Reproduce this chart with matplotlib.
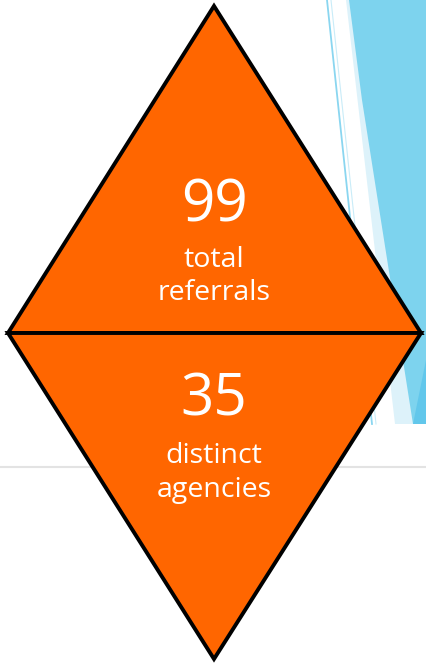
import matplotlib
matplotlib.use("Agg")
import matplotlib.pyplot as plt
from matplotlib.patches import Polygon

# Data
values = [99, 35]
labels = [["total", "referrals"], ["distinct", "agencies"]]

W, H = 426, 664
fig = plt.figure(figsize=(W / 100, H / 100), dpi=100)
ax = fig.add_axes([0, 0, 1, 1])
ax.set_xlim(0, W)
ax.set_ylim(H, 0)
ax.axis("off")

# Decorative background (slide design)
ax.add_patch(Polygon([(346, 0), (426, 0), (426, 424), (395, 424)], closed=True,
                     facecolor="#DDF2FA", edgecolor="none", zorder=1))
ax.add_patch(Polygon([(349, 0), (426, 0), (426, 424), (413, 424), (362, 100)], closed=True,
                     facecolor="#7DD3EE", edgecolor="none", zorder=1))
ax.add_patch(Polygon([(426, 360), (426, 424), (413, 424)], closed=True,
                     facecolor="#62C7EB", edgecolor="none", zorder=1))
ax.plot([327, 372], [0, 424], color="#8AD6F0", lw=1.3, zorder=1)
ax.plot([331, 376], [0, 424], color="#C9ECF8", lw=0.8, zorder=1)
ax.plot([0, W], [467, 467], color="#E3E3E3", lw=1.5, zorder=1)

# Diamond made of two triangles
cx, top, mid, bot, left, right = 214, 6, 333, 659, 8, 421
orange = "#FF6600"
ax.add_patch(Polygon([(cx, top), (right, mid), (left, mid)], closed=True,
                     facecolor=orange, edgecolor="black", lw=2.8, joinstyle="miter", zorder=3))
ax.add_patch(Polygon([(left, mid), (right, mid), (cx, bot)], closed=True,
                     facecolor=orange, edgecolor="black", lw=2.8, joinstyle="miter", zorder=3))

font = ["Open Sans", "DejaVu Sans"]
num_base = [221, 416]
lab_base = [[267, 300], [463, 497]]
for v, labs, nb, lbs in zip(values, labels, num_base, lab_base):
    ax.text(cx, nb, str(v), ha="center", va="baseline", color="white",
            fontsize=42, family=font, zorder=4)
    for lab, lb in zip(labs, lbs):
        ax.text(cx, lb, lab, ha="center", va="baseline", color="white",
                fontsize=20.5, family=font, zorder=4)

fig.savefig("out.png", dpi=100)
